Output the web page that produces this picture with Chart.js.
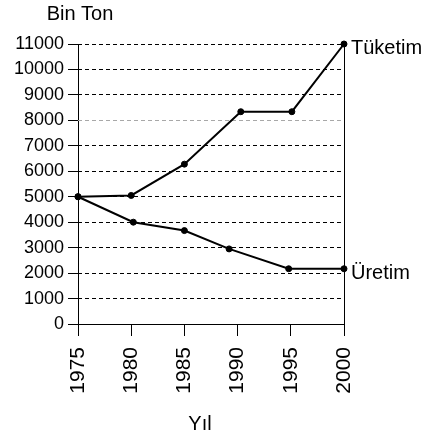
<!DOCTYPE html>
<html>
<head>
<meta charset="utf-8">
<script src="https://cdn.jsdelivr.net/npm/chart.js@4/dist/chart.umd.min.js"></script>
<style>
  body { margin: 0; background: #fff; }
  #wrap { width: 427px; height: 440px; }
</style>
</head>
<body>
<div id="wrap"><canvas id="chart" width="427" height="440"></canvas></div>
<script>
// values
const yearTicks = [1975, 1980, 1985, 1990, 1995, 2000];
const consumptionYears = [1975, 1980, 1985, 1990.3, 1995.1, 2000];
const consumption = [5000, 5050, 6280, 8340, 8340, 11000];
const productionYears = [1975, 1980.2, 1985, 1989.2, 1994.8, 2000];
const production = [5000, 4000, 3670, 2950, 2170, 2170];
const seriesNames = ["Tüketim", "Üretim"];
const yTitle = "Bin Ton";
const xTitle = "Yıl";

const FONT = "'Liberation Sans', Arial, sans-serif";

// end-of-line names and axis captions
const labelsPlugin = {
    id: "labels",
    afterDraw(chart) {
        const ctx = chart.ctx;
        const area = chart.chartArea;
        ctx.save();
        ctx.font = `20px ${FONT}`;
        ctx.fillStyle = "#000";
        ctx.textBaseline = "alphabetic";

        ctx.textAlign = "left";
        chart.data.datasets.forEach((ds, i) => {
            const last = chart.getDatasetMeta(i).data.at(-1);
            ctx.fillText(ds.label, last.x + 7, last.y + 10);
        });

        ctx.textAlign = "center";
        ctx.fillText(yTitle, area.left + 2, area.top - 24);
        ctx.fillText(xTitle, 200, 430);
        ctx.restore();
    }
};

const toPoints = (xs, ys) => xs.map((x, i) => ({ x, y: ys[i] }));

const lineStyle = {
    borderColor: "#000",
    borderWidth: 2,
    pointRadius: 3,
    pointBorderWidth: 1,
    pointBackgroundColor: "#000",
    pointBorderColor: "#000",
    tension: 0,
    clip: false
};

new Chart(document.getElementById("chart"), {
    type: "line",
    data: {
        datasets: [
            { label: seriesNames[0], data: toPoints(consumptionYears, consumption), ...lineStyle },
            { label: seriesNames[1], data: toPoints(productionYears, production), ...lineStyle }
        ]
    },
    options: {
        responsive: false,
        animation: false,
        layout: { padding: { top: 44, right: 83, left: 0, bottom: 0 } },
        plugins: {
            legend: { display: false },
            tooltip: { enabled: false }
        },
        scales: {
            x: {
                type: "linear",
                min: 1975,
                max: 2000,
                afterBuildTicks: s => { s.ticks = yearTicks.map(v => ({ value: v })); },
                afterFit: s => { s.height = 116; },
                ticks: {
                    autoSkip: false,
                    minRotation: 90,
                    maxRotation: 90,
                    padding: 11,
                    color: "#000",
                    font: { family: FONT, size: 21 },
                    callback: v => String(v)
                },
                grid: {
                    // only the outer frame lines (left axis, right edge) are drawn
                    color: c => (c.tick && (c.tick.value === 1975 || c.tick.value === 2000) ? "#000" : "rgba(0,0,0,0)"),
                    lineWidth: 1,
                    drawTicks: true,
                    tickLength: 12,
                    tickColor: "#000",
                    tickWidth: 1
                },
                border: { display: true, color: "#000", width: 1 }
            },
            y: {
                min: 0,
                max: 11000,
                afterFit: s => { s.width = 78; },
                ticks: {
                    stepSize: 1000,
                    padding: 4,
                    color: "#000",
                    font: { family: FONT, size: 18 },
                    callback: v => String(v)
                },
                grid: {
                    color: c => (c.tick && c.tick.value === 8000 ? "#a8a8a8" : "#000"),
                    lineWidth: 1,
                    tickLength: 10,
                    tickColor: "#000",
                    tickWidth: 1
                },
                border: { display: false, dash: [4, 3] }
            }
        }
    },
    plugins: [labelsPlugin]
});
</script>
</body>
</html>
